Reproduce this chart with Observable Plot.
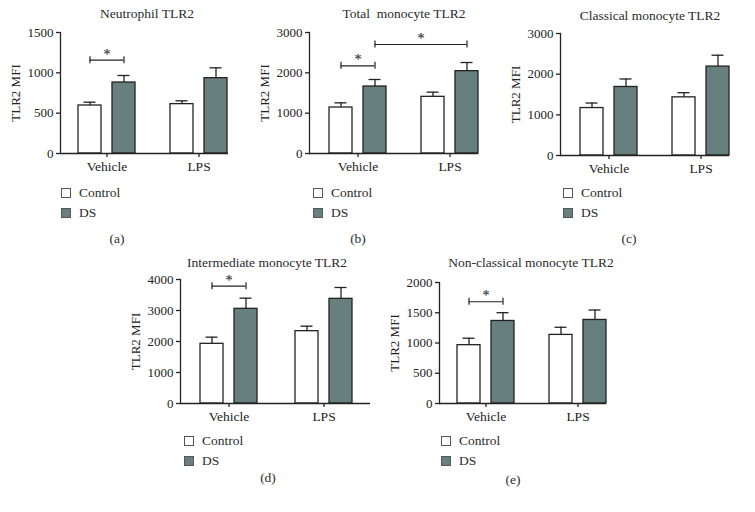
<!DOCTYPE html>
<html><head><meta charset="utf-8">
<script src="https://cdn.jsdelivr.net/npm/d3@7"></script>
<script src="https://cdn.jsdelivr.net/npm/@observablehq/plot@0.6"></script>
<style>
body{margin:0;background:#fff;}
#root{position:relative;width:755px;height:512px;overflow:hidden;font-family:"Liberation Serif","Times New Roman",serif;color:#2b2b2b;}
.abs{position:absolute;}
.title{font-size:13.5px;white-space:pre;transform:translateX(-50%);line-height:14px;}
.cap{font-size:13.5px;transform:translateX(-50%);line-height:14px;}
.leg{font-size:13.5px;line-height:14px;}
.row{display:flex;align-items:center;height:20px;}
.sw{width:10px;height:10px;border:1px solid #555;box-sizing:border-box;margin-right:8px;}
svg{position:absolute;overflow:visible;}
</style></head><body><div id="root"></div>
<script>
// ---- data ----
const groups = ["Vehicle", "LPS"];
const series = ["Control", "DS"];
const panelLetters = ["(a)", "(b)", "(c)", "(d)", "(e)"];
const panelTitles = ["Neutrophil TLR2", "Total  monocyte TLR2", "Classical monocyte TLR2", "Intermediate monocyte TLR2", "Non-classical monocyte TLR2"];
const yLabel = "TLR2 MFI";
const yMax = [1500, 3000, 3000, 4000, 2000];
const yTicks = [[0, 500, 1000, 1500], [0, 1000, 2000, 3000], [0, 1000, 2000, 3000], [0, 1000, 2000, 3000, 4000], [0, 500, 1000, 1500, 2000]];
// order: Vehicle-Control, Vehicle-DS, LPS-Control, LPS-DS
const meansA = [595, 880, 612, 934];
const semA   = [41, 87, 41, 128];
const meansB = [1140, 1661, 1405, 2041];
const semB   = [116, 174, 116, 215];
const meansC = [1167, 1685, 1430, 2186];
const semC   = [123, 197, 115, 280];
const meansD = [1925, 3054, 2333, 3376];
const semD   = [215, 344, 162, 366];
const meansE = [964, 1364, 1134, 1381];
const semE   = [115, 137, 126, 164];
// significance brackets: [panel index, from group, from series, to group, to series, y, label]
const sigBrackets = [
  [0, "Vehicle", "Control", "Vehicle", "DS", 1157, "*"],
  [1, "Vehicle", "Control", "Vehicle", "DS", 2174, "*"],
  [1, "Vehicle", "DS", "LPS", "DS", 2702, "*"],
  [3, "Vehicle", "Control", "Vehicle", "DS", 3785, "*"],
  [4, "Vehicle", "Control", "Vehicle", "DS", 1682, "*"]
];
const allMeans = [meansA, meansB, meansC, meansD, meansE];
const allSem = [semA, semB, semC, semD, semE];

// ---- layout (page pixels) ----
const layout = [
  {left: 0,   top: 0,   axisX: 60,  y0: 153, yTop: 32,  axisEnd: 228, barL: 78,  barR: 227, title: [147, 7],  legend: [61, 183],  caption: [117, 232]},
  {left: 250, top: 0,   axisX: 309, y0: 153, yTop: 32,  axisEnd: 478, barL: 329, barR: 478, title: [404, 7],  legend: [313, 183], caption: [358, 232]},
  {left: 500, top: 0,   axisX: 560, y0: 155, yTop: 33,  axisEnd: 729, barL: 580, barR: 729, title: [650, 9],  legend: [563, 183], caption: [629, 232]},
  {left: 130, top: 250, axisX: 180, y0: 403, yTop: 279, axisEnd: 370, barL: 200, barR: 352, title: [267, 256], legend: [184, 431], caption: [268, 471]},
  {left: 380, top: 250, axisX: 439, y0: 403, yTop: 282, axisEnd: 606, barL: 457, barR: 606, title: [531, 256], legend: [441, 431], caption: [513, 473]}
];
const barW = 23, gap = 11, capW = 12;
const dsColor = "#687f7f", ink = "#222222";
const font = '"Liberation Serif","Times New Roman",serif';

const root = document.getElementById("root");
function addDiv(cls, x, y, html) {
  const d = document.createElement("div");
  d.className = "abs " + cls;
  d.style.left = x + "px"; d.style.top = y + "px";
  d.innerHTML = html;
  root.appendChild(d);
  return d;
}

layout.forEach((L, p) => {
  const rows = [];
  groups.forEach((g, gi) => series.forEach((s, si) => {
    const k = gi * 2 + si;
    rows.push({group: g, series: s, mean: allMeans[p][k], top: allMeans[p][k] + allSem[p][k]});
  }));
  const ctrl = rows.filter(d => d.series === "Control");
  const ds = rows.filter(d => d.series === "DS");
  const bw = 2 * barW + gap;
  const step = (L.barR - L.barL) - bw;
  const pInner = 1 - bw / step;
  const off = (barW + gap) / 2;
  const width = L.axisEnd + 4 - L.left;
  const marginBottom = 40;
  const height = L.y0 - L.top + marginBottom;

  const marks = [
    Plot.barY(ctrl, {x: "group", y: "mean", fill: "#fff", stroke: ink, strokeWidth: 1.3, insetRight: bw - barW}),
    Plot.barY(ds, {x: "group", y: "mean", fill: dsColor, stroke: ink, strokeWidth: 1.3, insetLeft: bw - barW}),
    Plot.ruleX(ctrl, {x: "group", y1: "mean", y2: "top", dx: -off, stroke: ink, strokeWidth: 1.3}),
    Plot.ruleX(ds, {x: "group", y1: "mean", y2: "top", dx: off, stroke: ink, strokeWidth: 1.3}),
    Plot.tickY(ctrl, {x: "group", y: "top", stroke: ink, strokeWidth: 1.3, insetLeft: barW / 2 - capW / 2, insetRight: bw - barW / 2 - capW / 2}),
    Plot.tickY(ds, {x: "group", y: "top", stroke: ink, strokeWidth: 1.3, insetLeft: bw - barW / 2 - capW / 2, insetRight: barW / 2 - capW / 2}),
    Plot.axisY({ticks: yTicks[p], tickFormat: d3.format("d"), tickSize: 4, tickPadding: 3, stroke: ink, strokeWidth: 1.3, fontSize: 13, label: yLabel, labelAnchor: "center", labelOffset: 50, labelArrow: "none"}),
    Plot.axisX({tickSize: 4, tickPadding: 4, stroke: ink, strokeWidth: 1.3, fontSize: 13.5, label: null}),
    Plot.frame({anchor: "left", stroke: ink, strokeWidth: 1.3}),
    Plot.ruleY([0], {stroke: ink, strokeWidth: 1.3})
  ];
  sigBrackets.filter(b => b[0] === p).forEach(b => {
    const [, g1, s1, g2, s2, yv, lab] = b;
    const o1 = s1 === "Control" ? -off : off;
    const o2 = s2 === "Control" ? -off : off;
    const dat = [{g1, g2, y: yv, lab}];
    const span = (groups.indexOf(g2) - groups.indexOf(g1)) * step;
    marks.push(
      Plot.ruleY(dat, {x1: "g1", x2: "g2", y: "y", stroke: ink, strokeWidth: 1.2,
        insetLeft: bw / 2 + o1, insetRight: bw / 2 - o2}),
      Plot.ruleX(dat, {x: "g1", y1: "y", y2: "y", dx: o1, insetTop: -3.5, insetBottom: -3.5, stroke: ink, strokeWidth: 1.2}),
      Plot.ruleX(dat, {x: "g2", y1: "y", y2: "y", dx: o2, insetTop: -3.5, insetBottom: -3.5, stroke: ink, strokeWidth: 1.2}),
      Plot.text(dat, {x: "g1", y: "y", text: "lab", dx: (o1 + span + o2) / 2, dy: -6, fontSize: 14, fill: "#333", stroke: "#333", strokeWidth: 0.2})
    );
  });

  const chart = Plot.plot({
    width, height,
    marginLeft: L.axisX - L.left, marginRight: 4,
    marginTop: L.yTop - L.top, marginBottom,
    style: {fontFamily: font, color: ink, background: "transparent", overflow: "visible"},
    x: {domain: groups, range: [L.barL - L.left, L.barR - L.left], paddingInner: pInner, paddingOuter: 0},
    y: {domain: [0, yMax[p]]},
    marks
  });
  chart.style.left = L.left + "px";
  chart.style.top = L.top + "px";
  root.appendChild(chart);

  addDiv("title", L.title[0], L.title[1], panelTitles[p]);
  addDiv("leg", L.legend[0], L.legend[1],
    `<div class="row"><div class="sw" style="background:#fff"></div>${series[0]}</div>` +
    `<div class="row"><div class="sw" style="background:${dsColor}"></div>${series[1]}</div>`);
  addDiv("cap", L.caption[0], L.caption[1], panelLetters[p]);
});
</script>
</body></html>
